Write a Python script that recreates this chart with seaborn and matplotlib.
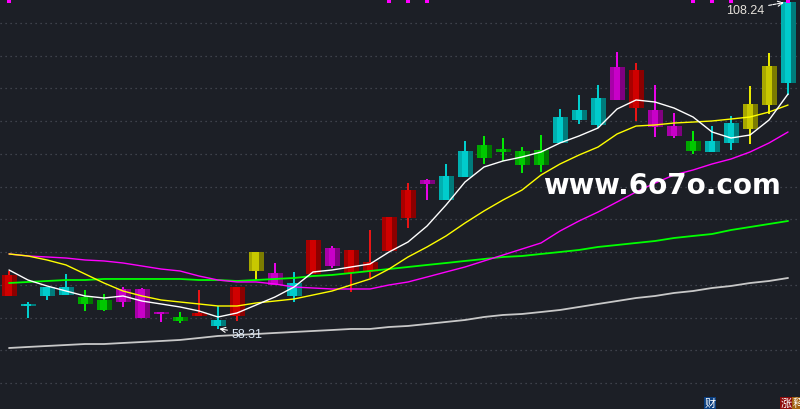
import matplotlib
matplotlib.use("Agg")
import matplotlib.pyplot as plt
import numpy as np
import pandas as pd
import seaborn as sns

# ---------------- data ----------------
idx = list(range(42))
kind = ['r','c','c','c','g','g','m','m','m','g','r','c','r','y','m','c','r','m','r','r','r',
        'r','m','c','c','g','g','g','g','c','c','c','m','r','m','m','g','c','c','y','y','c']
opens = [63.29,61.76,63.29,63.44,63.14,62.68,64.36,64.36,60.84,60.08,60.23,58.71,60.23,67.11,
         66.80,63.29,66.65,70.62,66.80,66.96,70.16,75.21,81.01,77.96,81.47,86.36,85.75,85.44,
         85.60,86.67,90.18,89.42,98.28,92.01,91.71,89.26,86.97,85.29,86.67,88.80,92.47,95.83]
closes = [66.50,62.07,64.66,64.66,62.07,61.15,62.37,59.93,60.54,59.47,60.69,59.62,64.66,70.01,
          64.97,65.27,71.84,67.87,70.32,68.48,75.36,79.48,80.40,81.62,85.44,84.37,85.29,83.30,
          83.30,90.64,91.71,93.54,93.24,97.82,89.11,87.74,85.44,86.97,89.72,92.62,98.43,108.24]
highs = [67.11,62.37,64.66,66.65,64.21,63.59,64.66,64.51,60.84,60.84,64.21,61.76,64.66,70.01,
         68.33,66.96,71.84,70.93,70.32,73.37,75.36,80.55,81.16,83.46,86.97,87.74,87.43,86.05,
         87.89,91.86,94.00,95.53,100.57,98.89,95.53,91.25,88.50,89.26,90.79,95.37,100.42,108.24]
lows = [63.29,59.93,62.68,63.44,61.00,61.00,61.61,59.93,59.32,59.16,60.23,58.31,59.47,65.73,
        64.97,62.37,66.65,67.57,63.90,66.04,70.16,73.68,77.96,77.96,81.47,83.46,83.92,82.08,
        82.23,86.67,89.57,88.96,93.24,90.03,87.58,87.43,84.98,85.29,85.60,86.51,91.10,94.00]

ma5 = [67.26,65.73,64.82,64.05,63.29,62.98,63.29,62.52,62.07,61.61,61.00,60.08,60.69,61.91,
       63.14,64.66,66.96,67.26,67.72,68.18,70.01,71.54,73.98,77.19,80.71,83.00,83.92,84.53,
       85.29,86.67,87.74,88.96,91.86,93.24,92.93,92.01,90.64,88.35,87.43,87.89,90.18,94.15]
ma10 = [69.71,69.40,68.79,68.03,66.65,65.27,64.05,63.29,62.68,62.37,62.07,61.76,61.76,62.22,
        62.52,62.83,63.44,64.05,64.97,65.89,67.41,69.25,70.78,72.46,74.44,76.28,77.96,79.48,
        81.78,83.46,84.83,86.05,88.04,89.26,89.42,89.72,89.87,90.03,90.33,90.64,91.40,92.47]
ma20 = [69.71,69.40,69.25,69.09,68.79,68.64,68.33,67.87,67.41,67.11,66.34,65.73,65.43,65.43,
        65.12,64.66,64.51,64.36,64.36,64.36,64.97,65.43,66.19,66.96,67.72,68.64,69.55,70.47,
        71.39,73.22,74.75,76.12,77.65,79.18,80.55,81.78,82.54,83.46,84.22,85.29,86.67,88.35]
ma30 = [65.27,65.43,65.58,65.73,65.73,65.89,65.89,65.89,65.89,65.89,65.73,65.73,65.58,65.73,
        65.89,66.04,66.34,66.50,66.80,67.11,67.41,67.72,68.03,68.33,68.64,68.94,69.25,69.40,
        69.71,70.01,70.32,70.78,71.08,71.39,71.69,72.15,72.46,72.76,73.37,73.83,74.29,74.75]
ma60 = [55.34,55.50,55.65,55.80,55.95,55.95,56.11,56.26,56.41,56.57,56.87,57.18,57.33,57.48,
        57.64,57.79,57.94,58.09,58.25,58.25,58.55,58.71,59.01,59.32,59.62,60.08,60.39,60.54,
        60.84,61.15,61.61,62.07,62.52,62.98,63.29,63.75,64.05,64.51,64.82,65.27,65.58,66.04]

marker_idx = [0, 20, 21, 22, 36, 37, 38, 41]
grid_levels = list(range(50, 106, 5))
max_label = "108.24"
min_label = "58.31"
watermark = "www.6o7o.com"

# ---------------- style ----------------
BG = "#1c1f26"
sns.set_theme(style="dark", rc={"axes.facecolor": BG, "figure.facecolor": BG})
plt.rcParams['font.family'] = ['DejaVu Sans']

shades = {  # bright, mid(left stripe), dark(right), wick
    'r': ('#d00000', '#a80000', '#8c0000', '#ff1414'),
    'c': ('#00cccc', '#00b0b0', '#007c7c', '#00e0e0'),
    'g': ('#00c800', '#00a800', '#007800', '#00ff00'),
    'm': ('#c800c8', '#a800a8', '#800080', '#ff00ff'),
    'y': ('#c8c800', '#a8a800', '#7c7c00', '#ffff00'),
}

fig = plt.figure(figsize=(8, 4.1), dpi=100)
ax = fig.add_axes([0, 0, 1, 1])
ax.set_facecolor(BG)

x = np.array(idx, dtype=float)
o = np.array(opens); c = np.array(closes)
top = np.maximum(o, c); bot = np.minimum(o, c)
hgt = np.maximum(top - bot, 0.3)

wcol = [shades[k][3] for k in kind]
ax.vlines(x, lows, highs, colors=wcol, lw=1.3, zorder=2)
ax.bar(x, hgt, bottom=bot, width=0.79, color=[shades[k][2] for k in kind], linewidth=0, zorder=3)
ax.bar(x - 0.29, hgt, bottom=bot, width=0.21, color=[shades[k][1] for k in kind], linewidth=0, zorder=3)
ax.bar(x - 0.025, hgt, bottom=bot, width=0.32, color=[shades[k][0] for k in kind], linewidth=0, zorder=3)

ma_df = pd.DataFrame({"i": idx, "MA5": ma5, "MA10": ma10, "MA20": ma20, "MA30": ma30, "MA60": ma60})
ma_style = [("MA60", "#c8c8c8", 1.3), ("MA30", "#00ff00", 1.3), ("MA20", "#ff00ff", 1.0),
            ("MA10", "#ffff00", 1.0), ("MA5", "#ffffff", 1.0)]
for name, col, lw in ma_style:
    sns.lineplot(data=ma_df, x="i", y=name, color=col, linewidth=lw, ax=ax, zorder=5, legend=False)

ax.set_xlim(-0.474, 41.63)
ax.set_ylim(46.02, 108.67)
ax.set_yticks(grid_levels)
ax.set_xticks([])
ax.grid(False)
ax.yaxis.grid(True, color="#4a4e58", linestyle=(0, (1, 3)), linewidth=0.9)
ax.tick_params(left=False, labelleft=False, bottom=False, labelbottom=False)
ax.set_xlabel(""); ax.set_ylabel("")
for s in ax.spines.values():
    s.set_visible(False)

# top event markers
ax.plot([x[i] for i in marker_idx], [0.996] * len(marker_idx), 's', color='#ff00ff', ms=2.3, mew=0,
        transform=ax.get_xaxis_transform(), clip_on=False, zorder=6)

# max / min annotations
imax = int(np.argmax(highs)); imin = int(np.argmin(lows))
ax.annotate(max_label, xy=(imax, highs[imax]), xytext=(-24, -11), textcoords='offset pixels',
            ha='right', va='baseline', fontsize=9, color='#e6e2dc', family='Liberation Sans',
            arrowprops=dict(arrowstyle='->', color='white', lw=0.8, linestyle=(0, (3, 1)),
                            shrinkA=1, shrinkB=3), zorder=7)
ax.annotate(min_label, xy=(imin, lows[imin]), xytext=(14, -8), textcoords='offset pixels',
            ha='left', va='baseline', fontsize=9, color='#dbe8f6', family='Liberation Sans',
            arrowprops=dict(arrowstyle='->', color='white', lw=0.8, shrinkA=1, shrinkB=1), zorder=7)

# watermark
ax.text(543 / 800, 1 - 194 / 410, watermark, transform=ax.transAxes, ha='left', va='baseline',
        fontsize=20, fontweight='bold', color='white', zorder=8)

# bottom event tags
cjk = ['Noto Sans CJK SC', 'DejaVu Sans']
for label, px, fc in [("财", 710, '#0b3f80'), ("涨", 786, '#8e0c0c'), ("释", 798, '#a0600c')]:
    fig.text(px / 800, 1 - 404 / 410, label, ha='center', va='center', fontsize=8, color='white',
             family=cjk, bbox=dict(boxstyle='square,pad=0.08', fc=fc, ec='none'))

fig.savefig("out.png", dpi=100, facecolor=BG)
